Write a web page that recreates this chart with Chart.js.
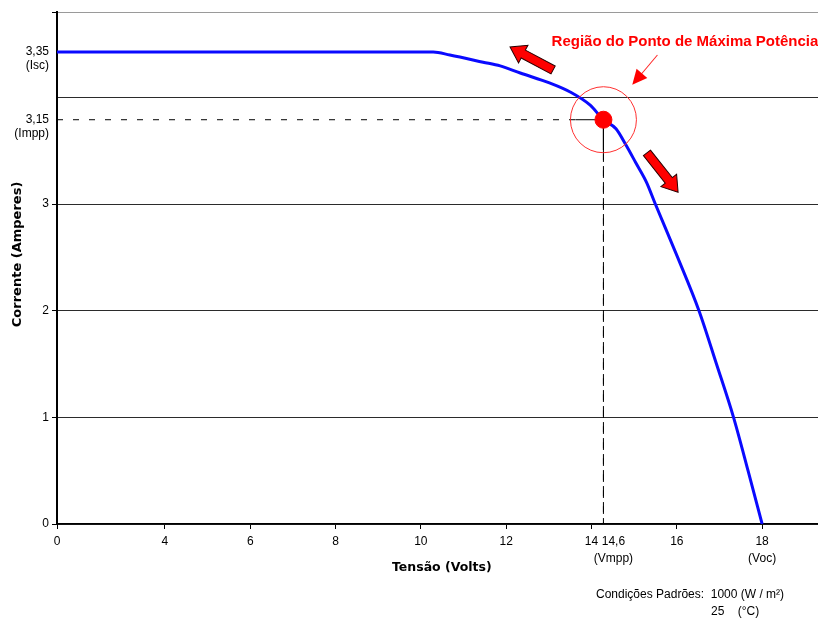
<!DOCTYPE html>
<html>
<head>
<meta charset="utf-8">
<script src="https://cdn.jsdelivr.net/npm/chart.js@4.4.1/dist/chart.umd.min.js"></script>
<style>
  html, body { margin: 0; padding: 0; background: #fff; }
</style>
</head>
<body>
<canvas id="grafico" width="818" height="619"></canvas>
<script>
// Curva I-V do módulo: tensão em V, corrente em A
const tensao   = [0, 10.29, 10.68, 11.46, 11.86, 12.33, 13.03, 13.5, 13.97, 14.6, 14.84, 15.03, 15.22, 15.42, 15.59, 16.02, 16.52, 16.93, 17.33, 17.67, 18.0];
const corrente = [3.35, 3.35, 3.341, 3.32, 3.309, 3.288, 3.258, 3.232, 3.193, 3.15, 3.134, 3.105, 3.073, 3.039, 3.0, 2.5, 2.0, 1.5, 1.0, 0.5, 0];

// Ponto de máxima potência
const vmpp = 14.6;
const impp = 3.15;

// Linhas tracejadas até os eixos (trecho sólido dentro do círculo)
const guiaV = [0, 13.62, 14.6, 14.6, 14.6];
const guiaI = [3.15, 3.15, 3.15, 3.096, 0];

// Rótulos dos eixos
const ticksX   = [0, 4, 6, 8, 10, 12, 14, 14.6, 16, 18];
const rotulosX = [['0'], ['4'], ['6'], ['8'], ['10'], ['12'], ['14'], ['14,6', '(Vmpp)'], ['16'], ['18', '(Voc)']];
const ticksY   = [0, 1, 2, 3, 3.15, 3.35];
const rotulosY = [['0', ''], ['1', ''], ['2', ''], ['3', ''], ['3,15', '(Impp)'], ['3,35', '(Isc)']];

// A figura original não tem escala linear: faixas dos eixos (real -> posição no gráfico)
const eixoXReal = [0, 4, 14, 14.6, 16, 20];
const eixoXPlot = [1.47, 4, 14, 14.28, 16, 20];
const eixoYReal = [0, 3, 3.15, 3.35, 3.47];
const eixoYPlot = [0, 3, 3.79, 4.425, 4.8];

function interpola(v, de, para) {
  for (let i = 1; i < de.length; i++) {
    if (v <= de[i] || i === de.length - 1) {
      const t = (v - de[i - 1]) / (de[i] - de[i - 1]);
      return para[i - 1] + t * (para[i] - para[i - 1]);
    }
  }
}
const wx = v => interpola(v, eixoXReal, eixoXPlot);
const wy = v => interpola(v, eixoYReal, eixoYPlot);

const pontos = (xs, ys) => xs.map((v, i) => ({ x: wx(v), y: wy(ys[i]) }));

function setaGrossa(ctx, x0, y0, x1, y1) {
  const ang = Math.atan2(y1 - y0, x1 - x0);
  const len = Math.hypot(x1 - x0, y1 - y0);
  const corpo = 4.5, cabeca = 10, compCabeca = 15;
  ctx.save();
  ctx.translate(x0, y0);
  ctx.rotate(ang);
  ctx.beginPath();
  ctx.moveTo(0, -corpo);
  ctx.lineTo(len - compCabeca, -corpo);
  ctx.lineTo(len - compCabeca, -cabeca);
  ctx.lineTo(len, 0);
  ctx.lineTo(len - compCabeca, cabeca);
  ctx.lineTo(len - compCabeca, corpo);
  ctx.lineTo(0, corpo);
  ctx.closePath();
  ctx.fillStyle = '#ff0000';
  ctx.fill();
  ctx.strokeStyle = '#2a0000';
  ctx.lineWidth = 1;
  ctx.stroke();
  ctx.restore();
}

function setaFina(ctx, x0, y0, x1, y1) {
  const ang = Math.atan2(y1 - y0, x1 - x0);
  const len = Math.hypot(x1 - x0, y1 - y0);
  ctx.save();
  ctx.translate(x0, y0);
  ctx.rotate(ang);
  ctx.strokeStyle = '#ff2020';
  ctx.lineWidth = 1;
  ctx.beginPath();
  ctx.moveTo(0, 0);
  ctx.lineTo(len - 10, 0);
  ctx.stroke();
  ctx.fillStyle = '#ff0000';
  ctx.beginPath();
  ctx.moveTo(len, 0);
  ctx.lineTo(len - 15, -7);
  ctx.lineTo(len - 15, 7);
  ctx.closePath();
  ctx.fill();
  ctx.restore();
}

// Setas, título da região e condições de teste
const anotacoes = {
  id: 'anotacoes',
  afterDatasetsDraw(chart) {
    const ctx = chart.ctx;
    const sx = chart.scales.x, sy = chart.scales.y;
    const px = v => sx.getPixelForValue(wx(v));
    const py = v => sy.getPixelForValue(wy(v));

    setaGrossa(ctx, px(13.10), py(3.297), px(12.09), py(3.365));
    setaGrossa(ctx, px(15.43), py(3.091), px(16.03), py(3.021));
    setaFina(ctx, px(15.63), py(3.341), px(15.15), py(3.253));

    ctx.save();
    ctx.fillStyle = '#ff0000';
    ctx.font = 'bold 15px "Liberation Sans", Arial, sans-serif';
    ctx.textAlign = 'center';
    ctx.textBaseline = 'middle';
    ctx.fillText('Região do Ponto de Máxima Potência', px(16.19), py(3.38));
    ctx.restore();
  },
  afterDraw(chart) {
    const ctx = chart.ctx;
    const r = chart.chartArea.right;
    ctx.save();
    ctx.fillStyle = '#000';
    ctx.font = '12px "Liberation Sans", Arial, sans-serif';
    ctx.textBaseline = 'middle';
    ctx.fillText('Condições Padrões:  1000 (W / m²)', r - 222, 595);
    ctx.fillText('25    (°C)', r - 107, 612);
    ctx.restore();
  }
};

Chart.defaults.font.family = '"Liberation Sans", Arial, sans-serif';
Chart.defaults.font.size = 12;
Chart.defaults.color = '#000';

new Chart(document.getElementById('grafico'), {
  type: 'scatter',
  data: {
    datasets: [
      {
        label: 'Ponto de máxima potência',
        data: pontos([vmpp], [impp]),
        backgroundColor: '#ff0000',
        borderColor: '#ff0000',
        pointRadius: 8.5,
        pointHoverRadius: 8.5
      },
      {
        label: 'Região',
        data: pontos([vmpp], [impp]),
        backgroundColor: 'rgba(0,0,0,0)',
        borderColor: '#ff3030',
        borderWidth: 1,
        pointRadius: 33,
        pointHoverRadius: 33
      },
      {
        label: 'Curva I-V',
        data: pontos(tensao, corrente),
        showLine: true,
        borderColor: '#0a0aff',
        borderWidth: 3,
        pointRadius: 0,
        cubicInterpolationMode: 'monotone'
      },
      {
        label: 'Guias',
        data: pontos(guiaV, guiaI),
        showLine: true,
        borderColor: '#000',
        borderWidth: 1,
        pointRadius: 0,
        segment: {
          borderDash: c => (c.p0DataIndex === 0 || c.p0DataIndex === 3) ? [6, 10] : []
        }
      }
    ]
  },
  options: {
    responsive: false,
    animation: false,
    devicePixelRatio: 1,
    layout: { autoPadding: false, padding: { top: 12, right: 0, left: 0, bottom: 0 } },
    plugins: {
      legend: { display: false },
      tooltip: { enabled: false }
    },
    scales: {
      x: {
        type: 'linear',
        min: wx(0),
        max: 19.31,
        afterBuildTicks: s => {
          s.ticks = ticksX.map((v, i) => ({ value: wx(v), rotulo: rotulosX[i], marca: v !== vmpp }));
        },
        afterFit: s => {
          s.height = 95;
          s.paddingLeft = 0;
          s.paddingRight = 0;
        },
        ticks: {
          padding: 5,
          autoSkip: false,
          maxRotation: 0,
          font: { size: 12, lineHeight: 1.35 },
          // o rótulo de Vmpp fica à direita da linha tracejada
          callback: (value, index, ticks) => ticks[index].marca
            ? ticks[index].rotulo
            : ticks[index].rotulo.map(l => '      ' + l)
        },
        grid: {
          drawOnChartArea: false,
          tickLength: 5,
          tickColor: c => (c.tick && c.tick.marca) ? '#000' : 'rgba(0,0,0,0)'
        },
        border: { color: '#000', width: 1.5 },
        title: {
          display: true,
          text: '  Tensão (Volts)',
          font: { family: '"DejaVu Sans", Verdana, sans-serif', size: 12.5, weight: 'bold' },
          padding: { top: 4, bottom: 44 }
        }
      },
      y: {
        type: 'linear',
        min: 0,
        max: 4.8,
        afterBuildTicks: s => {
          const t = ticksY.map((v, i) => ({ value: wy(v), rotulo: rotulosY[i], tipo: v > 3 ? 'rotulo' : 'grade' }));
          t.push({ value: 4, rotulo: '', tipo: 'linha' });
          t.push({ value: 4.8, rotulo: '', tipo: 'topo' });
          t.sort((a, b) => a.value - b.value);
          s.ticks = t;
        },
        afterFit: s => {
          s.width = 57;
          s.paddingTop = 0;
          s.paddingBottom = 0;
        },
        ticks: {
          padding: 3,
          autoSkip: false,
          labelOffset: 7,
          font: { size: 12, lineHeight: 1.15 },
          callback: (value, index, ticks) => ticks[index].rotulo
        },
        grid: {
          lineWidth: 1,
          tickLength: 5,
          color: c => {
            const tipo = c.tick && c.tick.tipo;
            if (tipo === 'topo') return '#9a9a9a';
            if (tipo === 'rotulo') return 'rgba(0,0,0,0)';
            return '#2b2b2b';
          },
          tickColor: c => {
            const tipo = c.tick && c.tick.tipo;
            return (tipo === 'grade' || tipo === 'topo') ? '#000' : 'rgba(0,0,0,0)';
          }
        },
        border: { color: '#000', width: 2 },
        title: {
          display: true,
          // espaços iniciais sobem o título, como na figura
          text: '      Corrente (Amperes)',
          font: { family: '"DejaVu Sans", Verdana, sans-serif', size: 13, weight: 'bold' },
          padding: { top: 10, bottom: 4 }
        }
      }
    }
  },
  plugins: [anotacoes]
});
</script>
</body>
</html>
